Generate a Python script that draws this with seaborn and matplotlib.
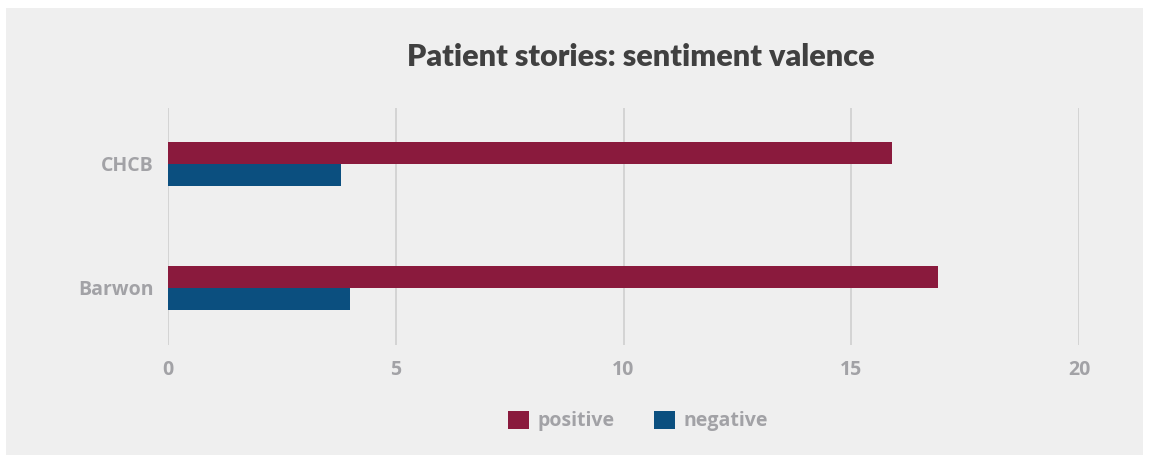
import pandas as pd
import numpy as np
import matplotlib
matplotlib.use('Agg')
import matplotlib.pyplot as plt
import seaborn as sns
from matplotlib.patches import Rectangle, Patch

sites = ['CHCB', 'Barwon']
positive = [15.9, 16.9]
negative = [3.8, 4.0]
xticks = [0, 5, 10, 15, 20]

df = pd.DataFrame({
    'site': sites * 2,
    'sentiment': ['positive'] * len(sites) + ['negative'] * len(sites),
    'count': positive + negative,
})

colors = {'positive': '#8a1a3d', 'negative': '#0b4f7f'}
bg = '#efefef'
label_grey = '#a2a2a6'

sns.set_theme(style='white')
plt.rcParams['font.family'] = ['Open Sans', 'DejaVu Sans']

fig = plt.figure(figsize=(11.49, 4.62), dpi=100)
fig.patch.set_facecolor('white')
fig.patches.append(Rectangle((6 / 1149, 7 / 462), 1137 / 1149, 447 / 462,
                             transform=fig.transFigure, facecolor=bg,
                             edgecolor='none', zorder=-10))

ax = fig.add_axes([168 / 1149, 1 - 345 / 462, (1079 - 168) / 1149, (345 - 108) / 462])
ax.set_facecolor('none')

sns.barplot(data=df, y='site', x='count', hue='sentiment', order=sites,
            hue_order=['positive', 'negative'], palette=colors, orient='h',
            width=0.355, dodge=True, saturation=1, linewidth=0,
            ax=ax, legend=False, zorder=3)

ax.set_xlim(0, 20)
ax.set_ylim(1.46, -0.45)
ax.set_xticks(xticks)
ax.set_xticklabels([str(t) for t in xticks])
ax.grid(axis='x', color='#cfcfcf', linewidth=1.2, zorder=0)
ax.set_axisbelow(True)
for s in ax.spines.values():
    s.set_visible(False)
ax.tick_params(axis='both', length=0)
ax.tick_params(axis='x', pad=11, labelsize=14, labelcolor=label_grey)
ax.tick_params(axis='y', pad=10, labelsize=14, labelcolor=label_grey)
for lab in ax.get_xticklabels() + ax.get_yticklabels():
    lab.set_fontweight('bold')
ax.set_xlabel('')
ax.set_ylabel('')

fig.text(641 / 1149, 1 - 57 / 462, 'Patient stories: sentiment valence',
         ha='center', va='center', fontsize=22, fontweight='heavy',
         family=['Lato', 'DejaVu Sans'], color='#404040')

handles = [Patch(facecolor=colors[k], edgecolor='none', label=k) for k in ['positive', 'negative']]
leg = fig.legend(handles=handles, loc='center', bbox_to_anchor=(638 / 1149, 1 - 421 / 462),
                 ncol=2, frameon=False, handlelength=1.1, handleheight=1.1,
                 handletextpad=0.45, columnspacing=2.0, prop={'size': 14, 'weight': 'bold'})
for t in leg.get_texts():
    t.set_color(label_grey)

fig.savefig('out.png', dpi=100, facecolor=fig.get_facecolor())
